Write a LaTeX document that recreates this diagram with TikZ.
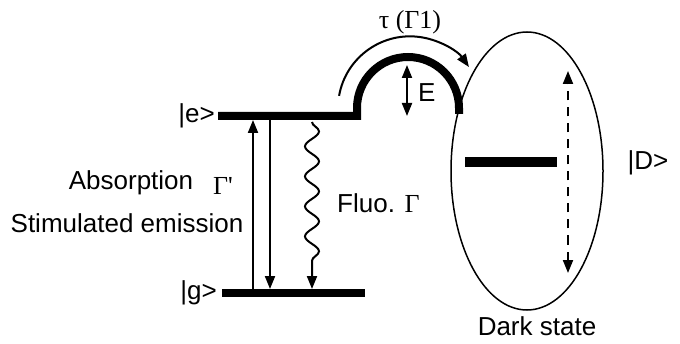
\documentclass[tikz,border=0pt]{standalone}
\usepackage{fontspec}
\setmainfont{Liberation Sans}
\newfontfamily\grk{Liberation Serif}
\usetikzlibrary{
  arrows.meta,              % Triangle arrow tips
  calc,                     % coordinate calculation
  decorations.pathmorphing, % wavy fluorescence line
  shapes.geometric          % ellipse of the dark state
}

\begin{document}
\begin{tikzpicture}[x=1pt, y=1pt, >={Triangle[length=13pt,width=10pt]},
  level/.style={line width=8pt},
  trans/.style={line width=2pt},
  lbl/.style={font=\fontsize{26}{28}\selectfont, inner sep=0pt}]
  \useasboundingbox (0,0) rectangle (680,343);

  % level heights
  \def\ye{227}
  \def\yg{50}

  % end points of the levels
  \coordinate (e1) at (218,\ye);
  \coordinate (e2) at (357,\ye);
  \coordinate (g1) at (222,\yg);
  \coordinate (g2) at (365,\yg);
  \coordinate (hump) at (408,235);   % centre of the barrier

  % 1. levels |e>, |g> and the barrier
  \draw[level, line join=miter] (e1) -- (e2) -- ++(0,8) arc (180:0:51) -- ++(0,-6);
  \draw[level] (g1) -- (g2);

  \node[lbl, anchor=east] (ket-e) at (215,\ye) {|e>};
  \node[lbl, anchor=east] (ket-g) at (217,\yg) {|g>};

  % 2. transitions between |g> and |e>
  \coordinate (abs-b) at (253,\yg+4);
  \coordinate (abs-t) at (253,\ye-4);
  \coordinate (sti-t) at (270,\ye-4);
  \coordinate (sti-b) at (270,\yg+4);
  \coordinate (flu-t) at (312,\ye-6);
  \coordinate (flu-b) at (312,\yg+4);
  \draw[trans, ->] (abs-b) -- (abs-t);
  \draw[trans, ->] (sti-t) -- (sti-b);
  \draw[trans, ->, decorate, decoration={snake, segment length=30pt,
    amplitude=7pt, post length=14pt}] (flu-t) -- (flu-b);

  \node[lbl] (absorb) at (131,160) {Absorption};
  \node[lbl] (stim) at (127,120) {Stimulated emission};
  \node[lbl] (gamma-p) at (223,157) {\grk Γ'};
  \node[lbl, anchor=west] (fluo) at (337,140) {Fluo. {\grk Γ}};

  % 3. barrier height E and passage to the dark state
  \coordinate (E-t) at ($(hump)+(-1,43)$);
  \coordinate (E-b) at ($(hump)+(-1,-8)$);
  \draw[trans, <->] (E-b) -- (E-t);
  \node[lbl, anchor=west] (E) at (418,250) {E};

  \draw[trans, ->] ($(hump)+(170:70)$) arc (170:35:72);
  \node[lbl] (tau) at (410,321) {\grk τ (Γ1)};

  % 4. dark state |D>
  \node[draw, line width=1.5pt, ellipse, minimum width=152pt,
    minimum height=278pt, inner sep=0pt] (dark) at (527,172) {};
  \coordinate (D1) at (465,181);
  \coordinate (D2) at (557,181);
  \draw[line width=10pt] (D1) -- (D2);
  \coordinate (Dd-t) at (568,272);
  \coordinate (Dd-b) at (568,70);
  \draw[trans, dashed, dash pattern=on 9pt off 7pt, <->] (Dd-b) -- (Dd-t);

  \node[lbl] (ket-D) at (648,180) {|D>};
  \node[lbl] (dark-lbl) at (537,17) {Dark state};
\end{tikzpicture}
\end{document}
